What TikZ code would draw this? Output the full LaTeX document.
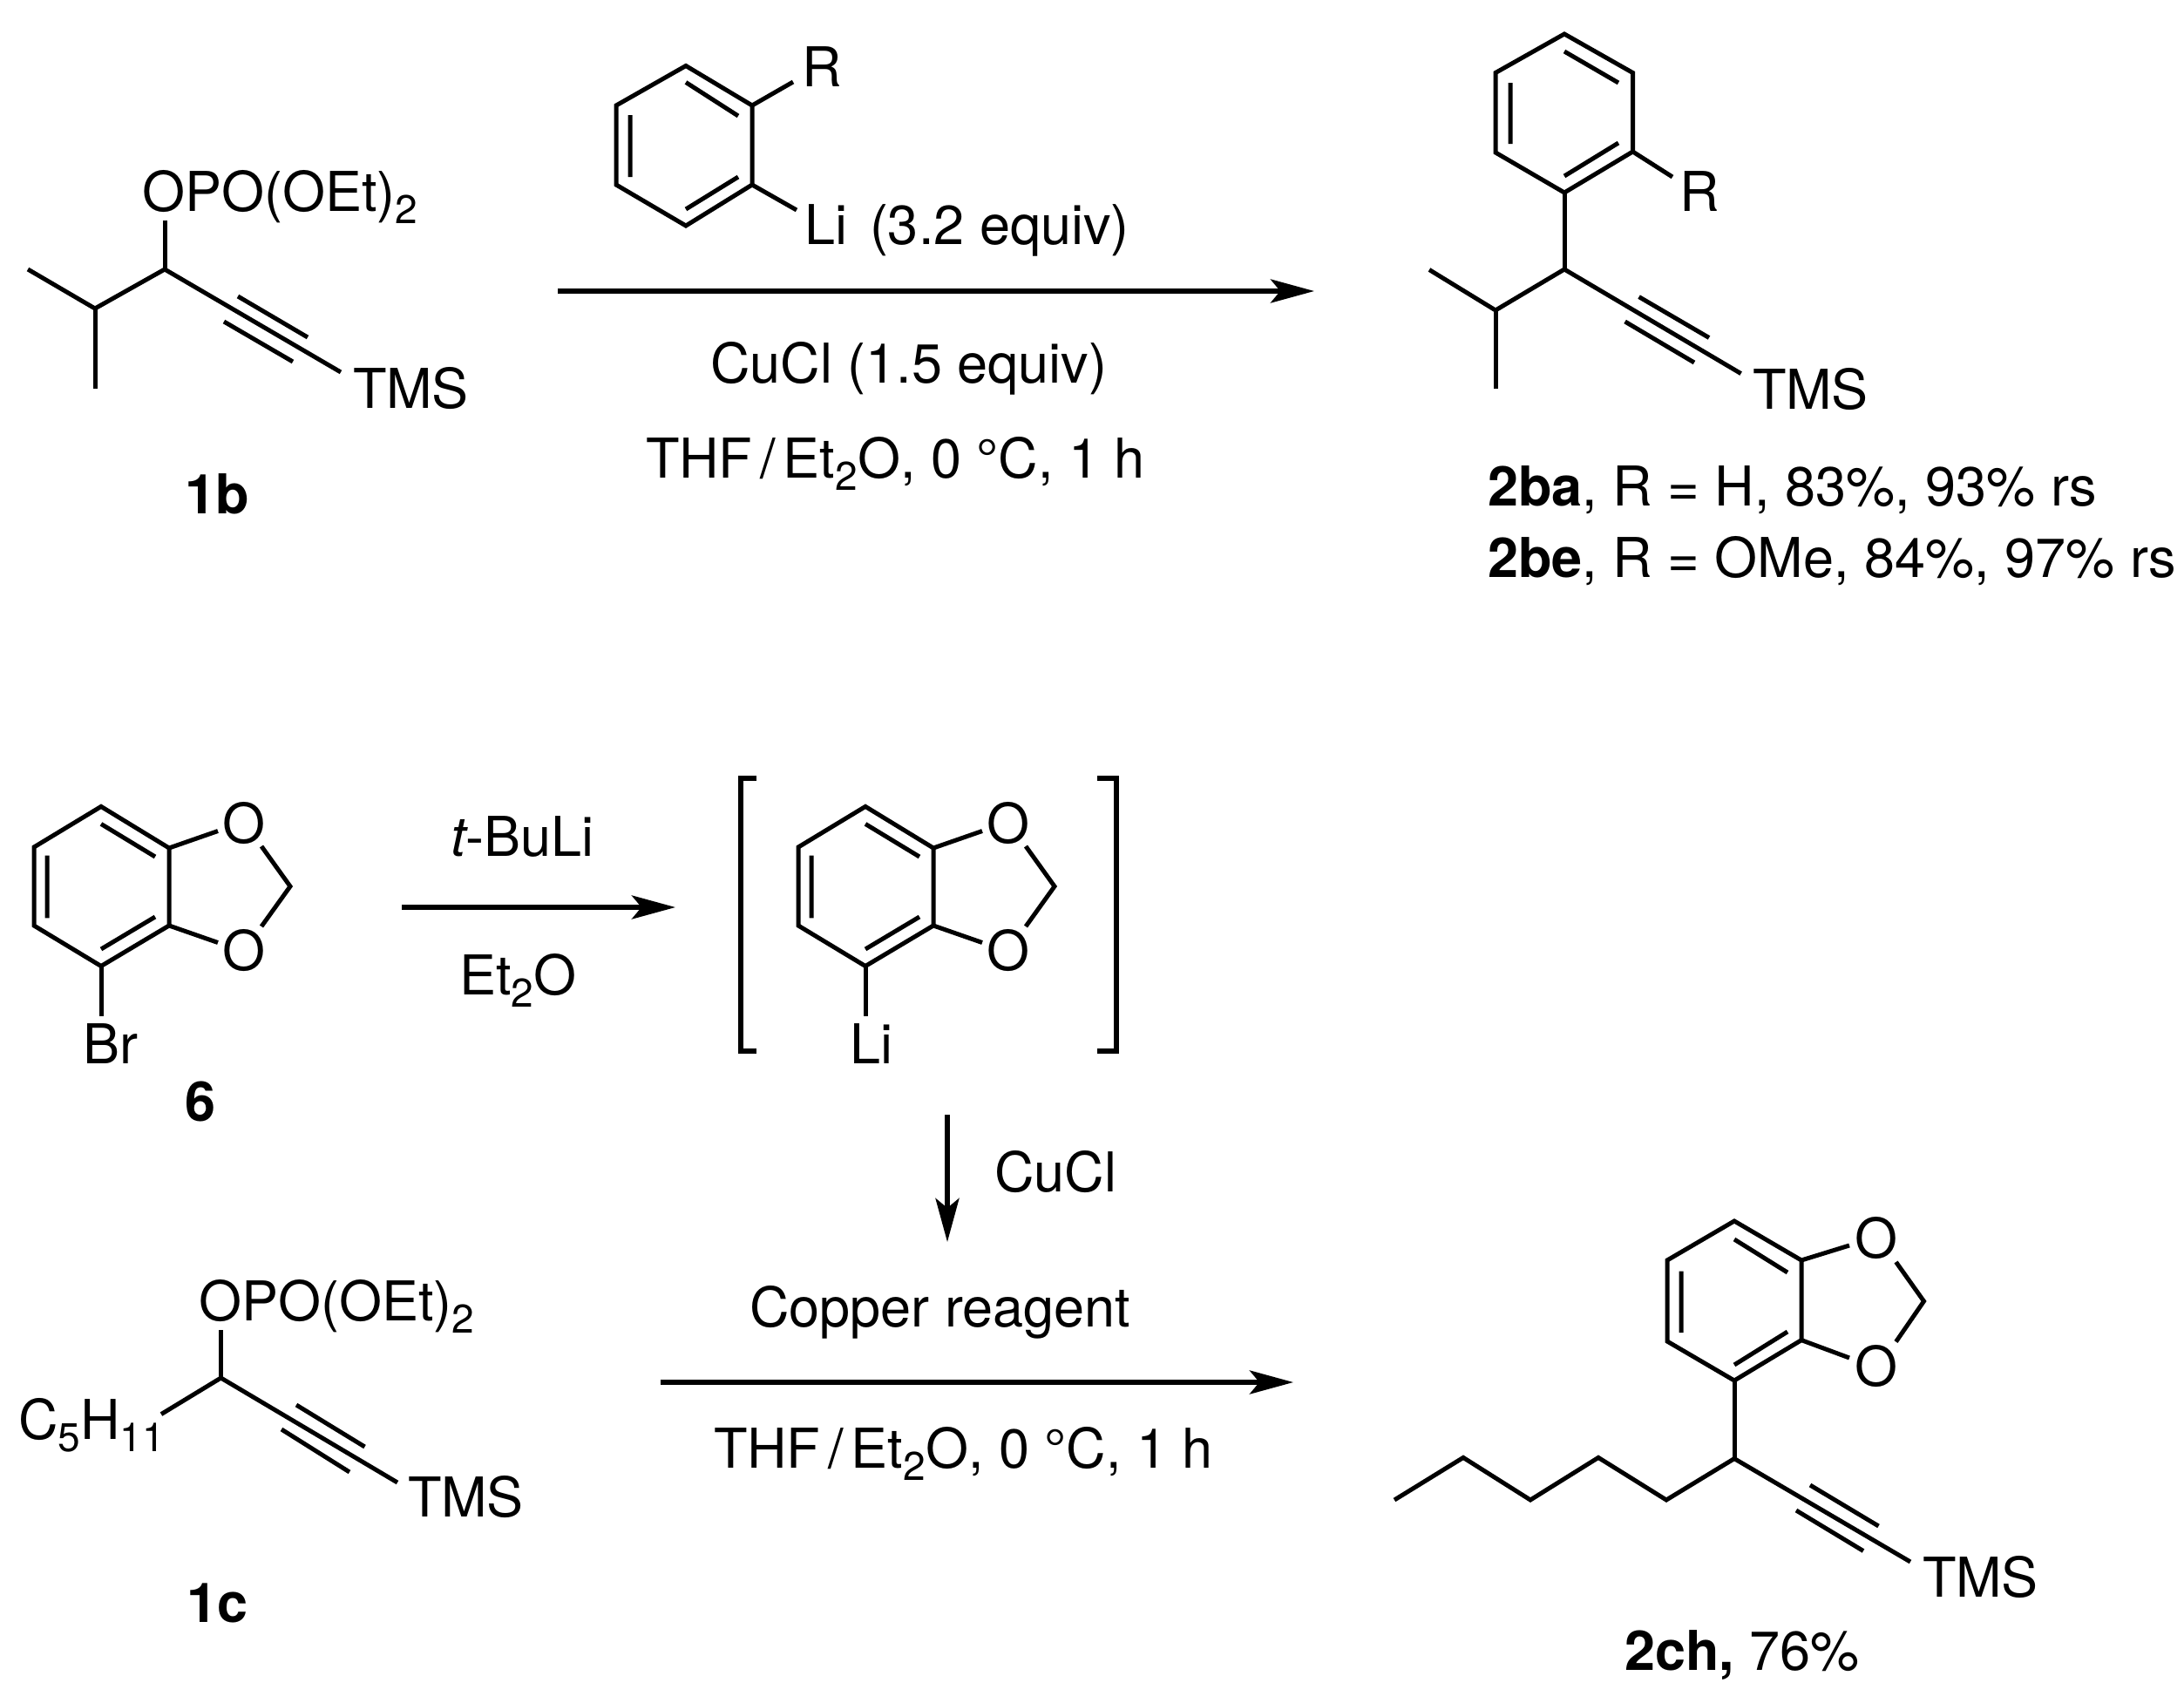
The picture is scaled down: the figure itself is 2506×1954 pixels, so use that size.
\documentclass[tikz,border=0pt]{standalone}
\usepackage{fontspec}
\setmainfont{TeX Gyre Heros}
\usetikzlibrary{arrows.meta}
\newcommand{\sbs}[1]{\raisebox{-14pt}{\fontsize{46}{46}\selectfont #1}}
\newcommand{\slsh}{\kern9pt/\kern9pt}
\tikzset{
  lab/.style={inner sep=0pt,outer sep=0pt,anchor=base west,font=\fontsize{63}{70}\selectfont},
  bond/.style={line width=5pt,line join=miter,miter limit=10},
  rxn/.style={line width=5.5pt,-{Stealth[length=50pt,width=27pt,inset=11pt]}},
  brk/.style={line width=5.5pt,line join=miter}
}
\begin{document}
\begin{tikzpicture}[x=1pt,y=-1pt]
\useasboundingbox (0,0) rectangle (2506,1954);
\fill[white] (0,0) rectangle (2506,1954);
%--- 1b
\draw[bond] (32,309) -- (109,354) -- (189,309) -- (391,427);
\draw[bond] (109,354) -- (109,446);
\draw[bond] (189,309) -- (189,253);
\draw[bond] (273,340) -- (353,387) (257,369) -- (336,415);
\node[lab] (s1) at (163,242) {OPO(OEt)\sbs{2}};
\node[lab] (t1) at (405,468) {TMS};
\node[lab,font=\fontsize{63}{70}\selectfont\bfseries] (n1b) at (212,589) {1b};
%--- aryl lithium
\draw[bond] (787,75.5) -- (863,121) -- (863,212) -- (787,259) -- (707,212) -- (707,121) -- cycle;
\draw[bond] (787,94.5) -- (847,133) (847,203) -- (787,240) (723,132) -- (723,203);
\draw[bond] (863,121) -- (910,94) (863,212) -- (914,241);
\node[lab] (r1) at (920,99.5) {R};
\node[lab] (li1) at (923,280) {Li};
\node[lab] (eq1) at (998,280) {(3.2 equiv)};
%--- arrow 1
\coordinate (a1s) at (640,334); \coordinate (a1e) at (1508,334);
\draw[rxn] (a1s) -- (a1e);
\node[lab] (cu1) at (815,439) {CuCl (1.5 equiv)};
\node[lab] (sv1) at (741,548) {THF\slsh Et\sbs{2}O, 0 °C, 1 h};
%--- product 2b
\draw[bond] (1795,39) -- (1873.5,83.5) -- (1873.5,174) -- (1795,221) -- (1716,175) -- (1716,83.5) -- cycle;
\draw[bond] (1795,59) -- (1857,95) (1857,164) -- (1795,202) (1733,95) -- (1733,165);
\draw[bond] (1873.5,174) -- (1919,203);
\draw[bond] (1795,221) -- (1795,309);
\draw[bond] (1640,309.5) -- (1716,356) -- (1795,309) -- (1997.6,428.6);
\draw[bond] (1716,356) -- (1716,446);
\draw[bond] (1880.6,340.6) -- (1961,387.5) (1864.6,369) -- (1944,416);
\node[lab] (r2) at (1927,242) {R};
\node[lab] (t2) at (2011,469) {TMS};
\node[lab] (y1) at (1707,580) {\textbf{2ba}, R = H, 83\%, 93\% rs};
\node[lab] (y2) at (1707,662) {\textbf{2be}, R = OMe, 84\%, 97\% rs};
%--- bromide 6 and lithium intermediate
\foreach \dx/\nm in {0/a,877/b} {
\begin{scope}[xshift=\dx pt]
\draw[bond] (116,925.4) -- (194,973) -- (194,1062) -- (116,1108.5) -- (39,1062) -- (39,972) -- cycle;
\draw[bond] (116,945.4) -- (178,983) (178,1052) -- (116,1089) (54,981.5) -- (54,1053.4);
\draw[bond] (194,973) -- (250,953.5) (194,1062) -- (250,1081.5);
\draw[bond] (300,971) -- (333,1017) -- (300,1063);
\draw[bond] (116,1108.5) -- (116,1166);
\node[lab] (o1\nm) at (255,967) {O};
\node[lab] (o2\nm) at (255,1113) {O};
\end{scope}
}
\node[lab] (br) at (95,1220) {Br};
\node[lab,font=\fontsize{63}{70}\selectfont\bfseries] (n6) at (212,1286) {6};
\coordinate (a2s) at (461,1041); \coordinate (a2e) at (775,1041);
\draw[rxn] (a2s) -- (a2e);
\node[lab] (tb) at (517,982.6) {\textit{t}\kern-2pt-BuLi};
\node[lab] (et) at (527,1141) {Et\sbs{2}O};
\node[lab] (li2) at (975,1220) {Li};
\draw[brk] (868,893) -- (850,893) -- (850,1206) -- (868,1206);
\draw[brk] (1259,893) -- (1281,893) -- (1281,1206) -- (1259,1206);
\coordinate (a3s) at (1087,1279); \coordinate (a3e) at (1087,1425);
\draw[rxn] (a3s) -- (a3e);
\node[lab] (cu2) at (1141,1367) {CuCl};
%--- 1c
\draw[bond] (253.5,1526) -- (253.5,1581);
\draw[bond] (185,1622.6) -- (253.5,1581) -- (456,1701);
\draw[bond] (340,1612) -- (418.5,1660) (323,1640) -- (401,1689);
\node[lab] (s2) at (228,1515.5) {OPO(OEt)\sbs{2}};
\node[lab] (t3) at (468,1740) {TMS};
\node[lab] (c5) at (21,1651) {C\sbs{5}H\sbs{11}};
\node[lab,font=\fontsize{63}{70}\selectfont\bfseries] (n1c) at (214,1861) {1c};
%--- arrow 3
\coordinate (a4s) at (757.6,1586); \coordinate (a4e) at (1484,1586);
\draw[rxn] (a4s) -- (a4e);
\node[lab] (cr) at (860,1522) {Copper reagent};
\node[lab] (sv2) at (819,1684.5) {THF\slsh Et\sbs{2}O, 0 °C, 1 h};
%--- product 2ch
\draw[bond] (1990,1401) -- (2067,1446) -- (2067,1537.6) -- (1990,1584) -- (1913,1539) -- (1913,1446) -- cycle;
\draw[bond] (1990,1422) -- (2051,1460) (2051,1528) -- (1990,1566) (1929,1458.6) -- (1929,1529);
\draw[bond] (2067,1446) -- (2122,1429) (2067,1537.6) -- (2122,1558);
\draw[bond] (2175.5,1448) -- (2207.5,1493) -- (2175.5,1539.5);
\draw[bond] (1990,1584) -- (1990,1673.6);
\draw[bond] (1600,1721) -- (1679,1672.4) -- (1756,1721) -- (1834,1672.4) -- (1912,1721) -- (1990,1673.6) -- (2192,1792);
\draw[bond] (2077,1704) -- (2155.5,1751) (2061,1733) -- (2138,1779.5);
\node[lab] (o3) at (2128,1443) {O};
\node[lab] (o4) at (2128,1590) {O};
\node[lab] (t4) at (2206,1832) {TMS};
\node[lab] (y3) at (1864,1916) {\textbf{2ch,} 76\%};
\end{tikzpicture}
\end{document}
